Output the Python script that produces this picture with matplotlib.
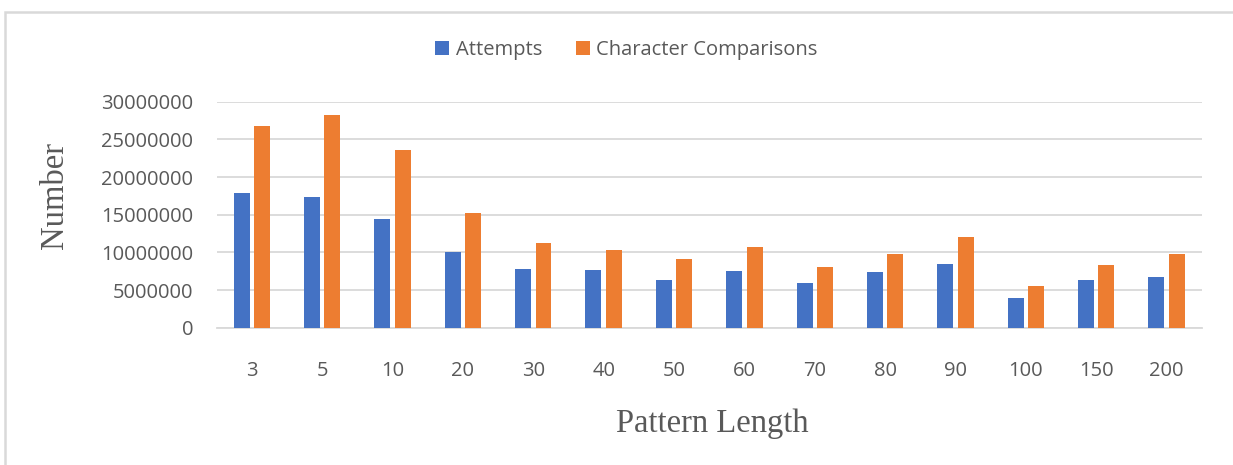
import matplotlib
matplotlib.use("Agg")
import matplotlib.pyplot as plt
from matplotlib.patches import Rectangle, Patch
import numpy as np

categories = ["3", "5", "10", "20", "30", "40", "50", "60", "70", "80", "90", "100", "150", "200"]
attempts = [17880000, 17390000, 14420000, 10040000, 7790000, 7700000, 6330000,
            7520000, 5930000, 7390000, 8450000, 3890000, 6330000, 6680000]
comparisons = [26800000, 28190000, 23580000, 15180000, 11190000, 10310000, 9120000,
               10750000, 8050000, 9730000, 12040000, 5580000, 8320000, 9730000]
yticks = [0, 5000000, 10000000, 15000000, 20000000, 25000000, 30000000]

BLUE = "#4472C4"
ORANGE = "#ED7D31"
GRID = "#D9D9D9"
TXT = "#595959"
SANS = "Open Sans"
SERIF = "Liberation Serif"
FS = 14.5

W, H = 1233, 465
fig = plt.figure(figsize=(W / 100, H / 100), dpi=100)

# outer chart border (left and top edges visible)
fig.patches.append(Rectangle((5 / W, -0.05), 1.2, 1 - 12 / H + 0.05,
                             transform=fig.transFigure, fill=False,
                             edgecolor=GRID, linewidth=1.8))

ax = fig.add_axes([216.7 / W, 1 - 327.7 / H, 985 / W, 226 / H])
x = np.arange(len(categories))
off, bw = 0.145, 0.227
ax.bar(x - off, attempts, bw, color=BLUE, zorder=3)
ax.bar(x + off, comparisons, bw, color=ORANGE, zorder=3)

ax.set_xlim(-0.5, len(categories) - 0.5)
ax.set_ylim(0, 30000000)
ax.set_yticks(yticks)
ax.set_yticklabels([str(v) for v in yticks])
ax.set_xticks(x)
ax.set_xticklabels(categories)
ax.yaxis.grid(True, color=GRID, linewidth=1.3, zorder=0)
ax.set_axisbelow(True)
for s in ["top", "right", "left"]:
    ax.spines[s].set_visible(False)
ax.spines["bottom"].set_color(GRID)
ax.spines["bottom"].set_linewidth(1.3)
ax.tick_params(axis="y", length=0, pad=17, labelsize=FS, labelcolor=TXT)
ax.tick_params(axis="x", length=0, pad=24, labelsize=FS, labelcolor=TXT)
for lab in ax.get_xticklabels() + ax.get_yticklabels():
    lab.set_fontfamily(SANS)

fig.text(712.5 / W, 1 - 432 / H, "Pattern Length", ha="center", va="baseline",
         fontfamily=SERIF, fontsize=23.5, color=TXT)
fig.text(55 / W, 1 - 195 / H, "Number", ha="center", va="center", rotation=90,
         fontfamily=SERIF, fontsize=23.5, color=TXT)

handles = [Patch(facecolor=BLUE, label="Attempts"),
           Patch(facecolor=ORANGE, label="Character Comparisons")]
fig.legend(handles=handles, loc="center", bbox_to_anchor=(626.5 / W, 1 - 50 / H),
           ncol=2, frameon=False, handlelength=0.7, handleheight=0.7,
           handletextpad=0.3, columnspacing=1.7,
           prop={"family": SANS, "size": FS}, labelcolor=TXT)

fig.savefig("out.png", dpi=100)
